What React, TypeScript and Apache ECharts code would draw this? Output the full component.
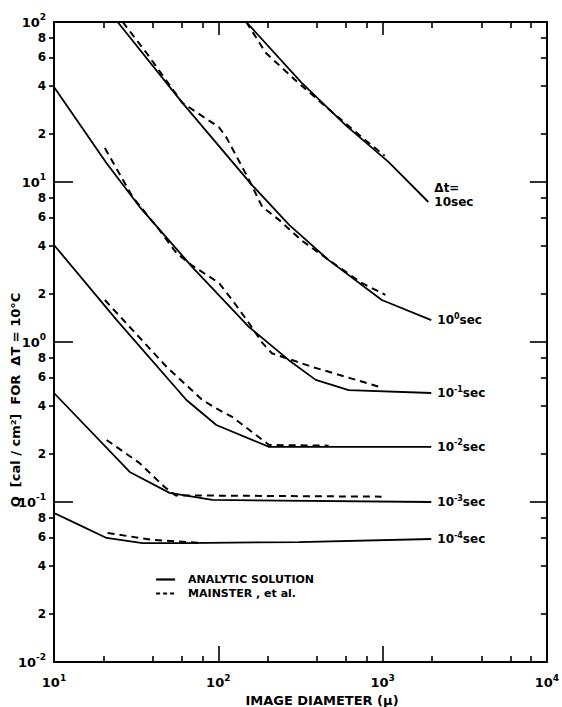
import { useEffect, useRef } from "react";
import * as echarts from "echarts";

// ---- axis ticks / labels ----
const xMajor = [10, 100, 1000, 10000];
const xMinor = [20, 40, 60, 80, 200, 400, 600, 800, 2000, 4000, 6000, 8000];
const yMajor = [0.01, 0.1, 1, 10, 100];
const yMinor = [0.02, 0.04, 0.06, 0.08, 0.2, 0.4, 0.6, 0.8, 2, 4, 6, 8, 20, 40, 60, 80];

// ---- curve labels (Δt) ----
const curveExponents = ["", "0", "-1", "-2", "-3", "-4"];

// ---- data: [image diameter (μ), Q] ----
const analytic10s = [[148, 100], [320, 42], [600, 22.5], [1090, 13.3], [1900, 7.5]];
const mainster10s = [[148, 100], [195, 64], [297, 43], [500, 27], [750, 19], [1030, 14.6]];
const analytic1s = [[24.4, 100], [60.5, 31.2], [160, 9.6], [270, 5.4], [470, 3.25], [990, 1.83], [1980, 1.37]];
const mainster1s = [[26.2, 100], [36.6, 64], [60.5, 31.2], [101, 22], [112, 19], [154, 10.3], [185, 7.0], [234, 5.8], [323, 4.3], [471, 3.25], [747, 2.34], [1040, 1.97]];
const analytic01s = [[10, 39.3], [20.9, 13.1], [33.2, 7.0], [69.5, 2.94], [154, 1.24], [269, 0.77], [392, 0.58], [622, 0.5], [1980, 0.48]];
const mainster01s = [[20.4, 16.3], [30.1, 8.06], [43.9, 5.0], [55.6, 3.6], [69.5, 3.0], [101, 2.34], [121.6, 1.83], [154, 1.31], [185, 0.99], [212, 0.85], [371, 0.7], [986, 0.52]];
const analytic001s = [[10, 4.04], [24.1, 1.37], [64, 0.434], [97.3, 0.303], [204, 0.221], [1980, 0.221]];
const mainster001s = [[20.4, 1.83], [48.4, 0.7], [80, 0.434], [101, 0.376], [121.6, 0.34], [204, 0.227], [470, 0.225]];
const analytic0001s = [[10, 0.48], [28.9, 0.154], [50.5, 0.114], [92, 0.103], [1980, 0.1]];
const mainster0001s = [[20.9, 0.244], [33.2, 0.175], [47.1, 0.124], [55, 0.11], [986, 0.108]];
const analytic00001s = [[10, 0.0853], [13.4, 0.074], [20.9, 0.0596], [34.6, 0.0554], [60.5, 0.0554], [310, 0.0562], [1980, 0.0587]];
const mainster00001s = [[21.2, 0.064], [39.8, 0.058], [77, 0.0556]];

const analyticAll = [analytic10s, analytic1s, analytic01s, analytic001s, analytic0001s, analytic00001s];
const mainsterAll = [mainster10s, mainster1s, mainster01s, mainster001s, mainster0001s, mainster00001s];

const FONT = "DejaVu Sans";
const ANALYTIC = "ANALYTIC SOLUTION";
const MAINSTER = "MAINSTER , et al.";

function powerLabel(v: number): string {
  const e = Math.round(Math.log10(v));
  if (Math.abs(v / Math.pow(10, e) - 1) < 1e-6) return `{b|10}{e|${e}}`;
  const d = Math.round(v / Math.pow(10, Math.floor(Math.log10(v) + 1e-9)));
  return `{m|${d}}`;
}

const labelRich = {
  b: { fontSize: 13, fontWeight: "bold", fontFamily: FONT, color: "#000" },
  m: { fontSize: 12, fontWeight: "bold", fontFamily: FONT, color: "#000" },
  e: { fontSize: 9, fontWeight: "bold", fontFamily: FONT, color: "#000", padding: [0, 0, 10, 0] },
};

const tickLine = { color: "#000", width: 1.6 };
const axisLine = { show: true, lineStyle: { color: "#000", width: 2 } };

export default function App() {
  const ref = useRef<HTMLDivElement>(null);
  useEffect(() => {
    if (!ref.current) return;
    const chart = echarts.init(ref.current, null, { renderer: "svg" });

    const xBase = { type: "log", logBase: 10, min: 10, max: 10000, gridIndex: 0, splitLine: { show: false }, minorTick: { show: false } };
    const yBase = { type: "log", logBase: 10, min: 0.01, max: 100, gridIndex: 0, splitLine: { show: false }, minorTick: { show: false } };

    const series: any[] = [];
    analyticAll.forEach((data, i) => {
      const exp = curveExponents[i];
      const text = exp === "" ? "Δt=\n10sec" : `10{s|${exp}}sec`;
      series.push({
        name: ANALYTIC,
        type: "line",
        data,
        symbol: "none",
        xAxisIndex: 0,
        yAxisIndex: 0,
        lineStyle: { color: "#000", width: 1.8, type: "solid" },
        itemStyle: { color: "#000" },
        endLabel: {
          show: true,
          formatter: text,
          distance: 6,
          offset: exp === "" ? [0, -7] : [0, 0],
          color: "#000",
          fontSize: 12,
          lineHeight: 14,
          fontWeight: "bold",
          fontFamily: FONT,
          rich: {
            s: { fontSize: 8, fontWeight: "bold", fontFamily: FONT, color: "#000", padding: [0, 0, 8, 0] },
          },
        },
      });
    });
    mainsterAll.forEach((data) => {
      series.push({
        name: MAINSTER,
        type: "line",
        data,
        symbol: "none",
        xAxisIndex: 0,
        yAxisIndex: 0,
        lineStyle: { color: "#000", width: 2, type: [7, 5] },
        itemStyle: { color: "#000" },
      });
    });

    chart.setOption({
      animation: false,
      backgroundColor: "#fff",
      grid: { left: 54, right: 14, top: 22, bottom: 45, containLabel: false },
      legend: {
        show: true,
        left: 150,
        top: 569,
        orient: "vertical",
        itemWidth: 19,
        itemHeight: 10,
        itemGap: 3,
        selectedMode: false,
        itemStyle: { opacity: 0 },
        data: [
          { name: ANALYTIC, lineStyle: { type: "solid", width: 2.2 } },
          { name: MAINSTER, lineStyle: { type: [4, 3], width: 2 } },
        ],
        textStyle: { fontSize: 11, fontWeight: "bold", fontFamily: FONT, color: "#000", padding: [0, 0, 0, 8] },
      },
      xAxis: [
        {
          ...xBase,
          position: "bottom",
          axisLine,
          axisTick: { show: true, inside: true, length: 6, customValues: xMinor, lineStyle: tickLine },
          axisLabel: { show: true, customValues: xMajor, margin: 11, formatter: powerLabel, rich: labelRich },
        },
        {
          ...xBase,
          position: "bottom",
          axisLine: { show: false },
          axisTick: { show: true, inside: true, length: 16, customValues: xMajor, lineStyle: tickLine },
          axisLabel: { show: false },
        },
        {
          ...xBase,
          position: "top",
          axisLine,
          axisTick: { show: true, inside: true, length: 6, customValues: xMinor, lineStyle: tickLine },
          axisLabel: { show: false },
        },
        {
          ...xBase,
          position: "top",
          axisLine: { show: false },
          axisTick: { show: true, inside: true, length: 13, customValues: xMajor, lineStyle: tickLine },
          axisLabel: { show: false },
        },
      ],
      yAxis: [
        {
          ...yBase,
          position: "left",
          axisLine,
          axisTick: { show: true, inside: false, length: 5, customValues: yMinor, lineStyle: tickLine },
          axisLabel: { show: true, customValues: [...yMajor, ...yMinor], margin: 8, formatter: powerLabel, rich: labelRich },
        },
        {
          ...yBase,
          position: "left",
          axisLine: { show: false },
          axisTick: { show: true, inside: true, length: 19, customValues: yMajor, lineStyle: tickLine },
          axisLabel: { show: false },
        },
        {
          ...yBase,
          position: "right",
          axisLine,
          axisTick: { show: true, inside: true, length: 6, customValues: yMinor, lineStyle: tickLine },
          axisLabel: { show: false },
        },
        {
          ...yBase,
          position: "right",
          axisLine: { show: false },
          axisTick: { show: true, inside: true, length: 17, customValues: yMajor, lineStyle: tickLine },
          axisLabel: { show: false },
        },
      ],
      graphic: [
        {
          type: "text",
          x: 15,
          y: 400,
          rotation: Math.PI / 2,
          style: {
            text: "Q  [cal / cm²]  FOR  ΔT = 10°C",
            align: "center",
            verticalAlign: "middle",
            fontSize: 13,
            fontWeight: "bold",
            fontFamily: FONT,
            fill: "#000",
          },
        },
        {
          type: "text",
          x: 322,
          y: 700,
          style: {
            text: "IMAGE DIAMETER (μ)",
            align: "center",
            verticalAlign: "middle",
            fontSize: 13,
            fontWeight: "bold",
            fontFamily: FONT,
            fill: "#000",
          },
        },
      ],
      series,
    });

    return () => {
      chart.dispose();
    };
  }, []);

  return <div ref={ref} style={{ position: "absolute", left: 0, top: 0, width: 562, height: 707 }} />;
}
